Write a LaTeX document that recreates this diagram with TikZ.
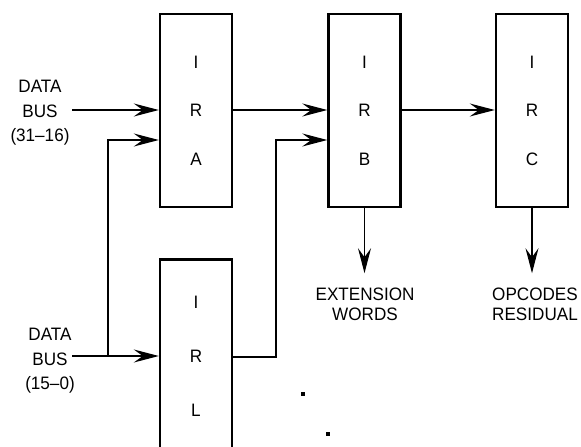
\documentclass[tikz,border=0pt]{standalone}
\usepackage{fontspec}
\setmainfont{Liberation Sans}[FakeStretch=0.95]
\usetikzlibrary{arrows.meta}
\begin{document}
\begin{tikzpicture}[x=1pt,y=-1pt,
  regbox/.style={draw,line width=2.4pt,minimum width=72pt,minimum height=193pt,inner sep=0pt,align=center,font=\fontsize{18}{48.5}\selectfont},
  lbl/.style={align=center,inner sep=0pt,font=\fontsize{18}{24.5}\selectfont},
  lbltwo/.style={align=center,inner sep=0pt,font=\fontsize{18}{20}\selectfont},
  wire/.style={line width=1.2pt},
  arr/.style={wire,-{Stealth[length=25pt,width=13pt,inset=9pt]}},
  dotsq/.style={fill,minimum size=3.4pt,inner sep=0pt}]
\useasboundingbox (0,0) rectangle (581,447);
\clip (0,0) rectangle (581,447);
\node[regbox] (ira) at (196,110.5) {I\\R\\A};
\node[regbox] (irb) at (364.5,110.5) {I\\R\\B};
\node[regbox] (irc) at (532,110.5) {I\\R\\C};
\node[regbox,font=\fontsize{18}{54}\selectfont] (irl) at (196,356) {I\\R\\L};
\node[lbl] (dba) at (40,113) {DATA\\BUS\\(31--16)};
\node[lbl] (dbl) at (50,361) {DATA\\BUS\\(15--0)};
\node[lbltwo] (ext) at (365,304) {EXTENSION\\WORDS};
\node[lbltwo] (opc) at (535,304) {OPCODES\\RESIDUAL};
\coordinate (a1) at (72,110);
\coordinate (a2) at (72,356);
\coordinate (j1) at (108,356);
\coordinate (j1t) at (108,140);
\coordinate (b1) at (232,110);
\coordinate (b2) at (232,357);
\coordinate (j2) at (276,357);
\coordinate (j2t) at (276,140);
\coordinate (c1) at (401,110);
\draw[arr] (a1) -- (a1 -| ira.west);
\draw[arr] (a2) -- (a2 -| irl.west);
\draw[arr] (j1) -- (j1t) -- (j1t -| ira.west);
\draw[arr] (b1) -- (b1 -| irb.west);
\draw[arr] (b2) -- (j2) -- (j2t) -- (j2t -| irb.west);
\draw[arr] (c1) -- (c1 -| irc.west);
\draw[arr] (irb.south) -- ++(0,65);
\draw[arr] (irc.south) -- ++(0,65);
\node[dotsq] (d1) at (303,394) {};
\node[dotsq] (d2) at (328,434) {};
\end{tikzpicture}
\end{document}
